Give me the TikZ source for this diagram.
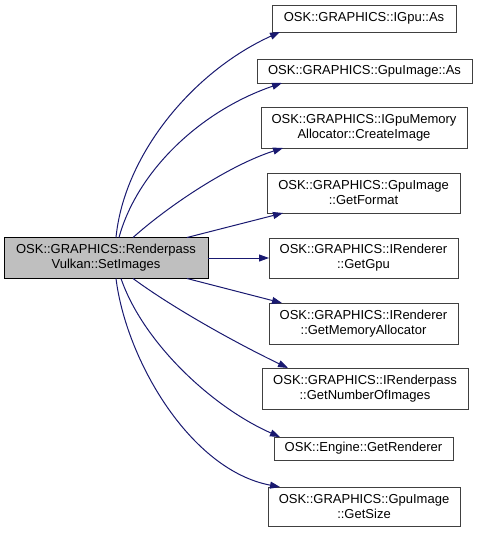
\documentclass[tikz,border=0pt]{standalone}
\usepackage{fontspec}
\setmainfont{Liberation Sans}
\usetikzlibrary{arrows.meta}
\definecolor{edgeC}{HTML}{191970}
\definecolor{borderC}{HTML}{404040}
\definecolor{mainC}{HTML}{BFBFBF}

\begin{document}
\begin{tikzpicture}[
  x=1pt, y=-1pt,
  every node/.style={font=\fontsize{13}{15}\selectfont, text=black},
  fnbox/.style 2 args={
    draw=borderC, fill=white, line width=1pt,
    minimum width=#1pt, minimum height=#2pt,
    inner sep=0pt, outer sep=0pt, align=center,
  },
  mainbox/.style={
    draw=black, fill=mainC, line width=1pt,
    minimum width=204pt, minimum height=41pt,
    inner sep=0pt, outer sep=0pt, align=center,
  },
  callflow/.style={-{Triangle[length=10pt,width=7pt]}, edgeC, line width=1pt},
]
\useasboundingbox (0,0) rectangle (477,533);

% ── Caller ──
\node[mainbox] (main) at (106,258) {OSK::GRAPHICS::Renderpass\\Vulkan::SetImages};

% ── Callees ──
\node[fnbox={184}{27}] (igpuAs)      at (364,18.5)  {OSK::GRAPHICS::IGpu::As};
\node[fnbox={215}{24}] (gpuImgAs)    at (364.5,71)  {OSK::GRAPHICS::GpuImage::As};
\node[fnbox={206}{41}] (createImg)   at (364,127.5) {OSK::GRAPHICS::IGpuMemory\\Allocator::CreateImage};
\node[fnbox={193}{40}] (getFormat)   at (363.5,193) {OSK::GRAPHICS::GpuImage\\::GetFormat};
\node[fnbox={189}{40}] (getGpu)      at (363.5,258) {OSK::GRAPHICS::IRenderer\\::GetGpu};
\node[fnbox={189}{41}] (getMemAlloc) at (363.5,323.5) {OSK::GRAPHICS::IRenderer\\::GetMemoryAllocator};
\node[fnbox={206}{41}] (getNumImgs)  at (365,388.5) {OSK::GRAPHICS::IRenderpass\\::GetNumberOfImages};
\node[fnbox={179}{23}] (getRenderer) at (363.5,448.5) {OSK::Engine::GetRenderer};
\node[fnbox={192}{39}] (getSize)     at (364,506.5) {OSK::GRAPHICS::GpuImage\\::GetSize};

% ── Calls above ──
\draw[callflow] ([xshift=112pt]main.north west) .. controls +(8,-82) and +(-88,40) .. ([xshift=8pt]igpuAs.south west);
\draw[callflow] ([xshift=115pt]main.north west) .. controls +(18,-66) and +(-82,28) .. ([xshift=25pt]gpuImgAs.south west);
\draw[callflow] ([xshift=129pt]main.north west) .. controls +(37,-33) and +(-53,17) .. ([xshift=22pt]createImg.south west);
\draw[callflow] ([xshift=183pt]main.north west) -- ([xshift=16pt]getFormat.south west);

% ── Straight call ──
\draw[callflow] (main.east) -- (getGpu.west);

% ── Calls below ──
\draw[callflow] ([xshift=183pt]main.south west) -- ([xshift=13pt]getMemAlloc.north west);
\draw[callflow] ([xshift=129pt]main.south west) .. controls +(42,31) and +(-48,-23) .. ([xshift=26pt]getNumImgs.north west);
\draw[callflow] ([xshift=117pt]main.south west) .. controls +(22,64) and +(-68,-30) .. ([xshift=6pt]getRenderer.north west);
\draw[callflow] ([xshift=112pt]main.south west) .. controls +(10,81) and +(-90,-17) .. ([xshift=12pt]getSize.north west);

\end{tikzpicture}
\end{document}
